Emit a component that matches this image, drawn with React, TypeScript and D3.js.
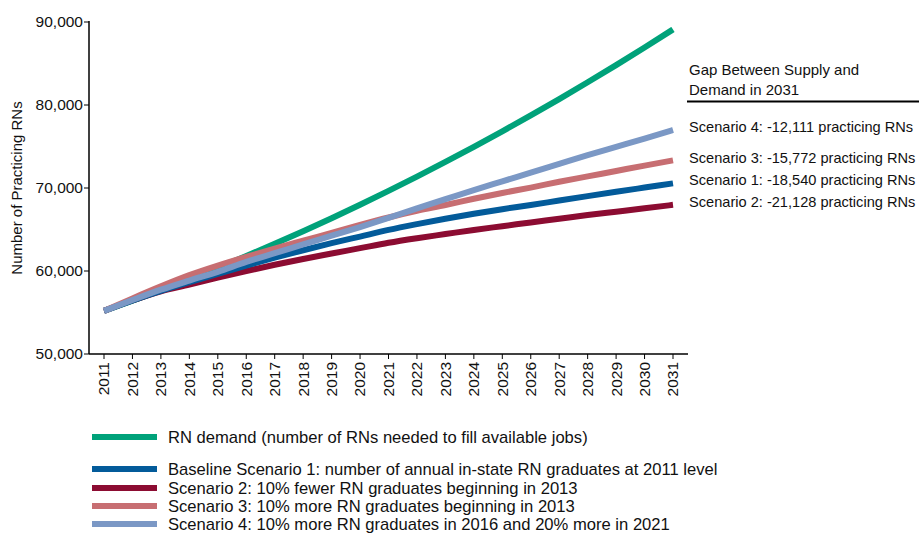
import * as d3 from "d3";

const years = d3.range(2011, 2032);

const demand = [
  55200, 56420, 57690, 59010, 60380, 61800, 63270, 64790, 66360, 67980, 69650,
  71370, 73140, 74960, 76830, 78750, 80720, 82740, 84810, 86930, 89100,
];
const scenario1 = [
  55200, 56450, 57600, 58650, 59650, 60650, 61600, 62500, 63350, 64150, 64950,
  65650, 66300, 66900, 67450, 67950, 68490, 69020, 69540, 70050, 70560,
];
const scenario2 = [
  55200, 56450, 57550, 58350, 59200, 60000, 60750, 61450, 62100, 62750, 63400,
  63950, 64450, 64950, 65400, 65850, 66300, 66750, 67150, 67550, 67970,
];
const scenario3 = [
  55200, 56700, 58150, 59500, 60650, 61700, 62700, 63650, 64600, 65550, 66450,
  67250, 67950, 68700, 69400, 70050, 70750, 71400, 72050, 72700, 73330,
];
const scenario4 = [
  55200, 56500, 57750, 58850, 59900, 61100, 62150, 63200, 64250, 65300, 66400,
  67550, 68650, 69750, 70800, 71850, 72900, 73950, 74950, 75950, 76990,
];

const yTicks = [50000, 60000, 70000, 80000, 90000];

const series = [
  { key: "demand", values: demand, color: "#00a27a", legend: "RN demand (number of RNs needed to fill available jobs)" },
  { key: "s2", values: scenario2, color: "#8c0c32", legend: "Scenario 2: 10% fewer RN graduates beginning in 2013" },
  { key: "s1", values: scenario1, color: "#035b9a", legend: "Baseline Scenario 1: number of annual in-state RN graduates at 2011 level" },
  { key: "s3", values: scenario3, color: "#c76e72", legend: "Scenario 3: 10% more RN graduates beginning in 2013" },
  { key: "s4", values: scenario4, color: "#7b98c5", legend: "Scenario 4: 10% more RN graduates in 2016 and 20% more in 2021" },
];

const legendOrder = ["demand", "s1", "s2", "s3", "s4"];
const gapLabels = [
  "Scenario 4: -12,111 practicing RNs",
  "Scenario 3: -15,772 practicing RNs",
  "Scenario 1: -18,540 practicing RNs",
  "Scenario 2: -21,128 practicing RNs",
];

const W = 919;
const H = 533;
const font = "'Liberation Sans', Arial, sans-serif";

export default function App() {
  const x = d3.scaleLinear().domain([2011, 2031]).range([104, 673]);
  const y = d3.scaleLinear().domain([50000, 90000]).range([354, 22]);
  const axisLeft = 89;
  const axisBottom = 354;

  const line = d3
    .line<number>()
    .x((_, i) => x(years[i]))
    .y((d) => y(d))
    .curve(d3.curveMonotoneX);

  const legendY = [437, 469, 488, 506, 524];
  const gapY = [127, 158, 180, 202];

  return (
    <svg width={W} height={H} style={{ position: "absolute", left: 0, top: 0, fontFamily: font }}>
      {/* axes */}
      <line x1={axisLeft} x2={axisLeft} y1={21} y2={axisBottom} stroke="#000" strokeWidth={1.5} />
      <line x1={axisLeft} x2={688} y1={axisBottom} y2={axisBottom} stroke="#000" strokeWidth={1.5} />
      {yTicks.map((t) => (
        <g key={t}>
          <line x1={axisLeft - 5} x2={axisLeft} y1={y(t)} y2={y(t)} stroke="#000" />
          <text x={axisLeft - 6} y={y(t)} dy="0.35em" textAnchor="end" fontSize={15.5} fill="#111">
            {d3.format(",")(t)}
          </text>
        </g>
      ))}
      {years.map((yr) => (
        <g key={yr}>
          <line x1={x(yr)} x2={x(yr)} y1={axisBottom} y2={axisBottom + 5} stroke="#000" />
          <text
            transform={`translate(${x(yr)},${axisBottom + 8}) rotate(-90)`}
            dy="0.35em"
            textAnchor="end"
            fontSize={15.5}
            fill="#111"
          >
            {yr}
          </text>
        </g>
      ))}
      <text transform="translate(22,188) rotate(-90)" textAnchor="middle" fontSize={15} fill="#111">
        Number of Practicing RNs
      </text>

      {/* lines */}
      {series.map((s) => (
        <path key={s.key} d={line(s.values) ?? ""} fill="none" stroke={s.color} strokeWidth={6} />
      ))}

      {/* gap annotation */}
      <text x={689} y={75} fontSize={15} fill="#111">Gap Between Supply and</text>
      <text x={689} y={95} fontSize={15} fill="#111">Demand in 2031</text>
      <line x1={687} x2={919} y1={101.5} y2={101.5} stroke="#000" strokeWidth={2} />
      {gapLabels.map((g, i) => (
        <text key={g} x={689} y={gapY[i]} dy="0.35em" fontSize={14.6} fill="#111">
          {g}
        </text>
      ))}

      {/* legend */}
      {legendOrder.map((k, i) => {
        const s = series.find((d) => d.key === k)!;
        return (
          <g key={k}>
            <line x1={92} x2={157} y1={legendY[i]} y2={legendY[i]} stroke={s.color} strokeWidth={6} />
            <text x={168} y={legendY[i]} dy="0.35em" fontSize={16.6} fill="#111">
              {s.legend}
            </text>
          </g>
        );
      })}
    </svg>
  );
}
